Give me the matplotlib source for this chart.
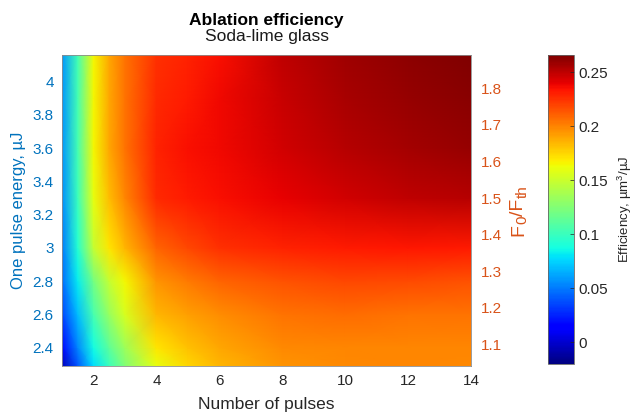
import numpy as np
import matplotlib
matplotlib.use("Agg")
import matplotlib.pyplot as plt

plt.rcParams['font.family'] = ['Liberation Sans', 'DejaVu Sans']
plt.rcParams['mathtext.fontset'] = 'custom'
plt.rcParams['mathtext.rm'] = 'Liberation Sans'
plt.rcParams['mathtext.it'] = 'Liberation Sans'

# Data
pulses = [1, 1.5, 2, 2.5, 3, 4, 5, 6, 8, 10, 12, 14]
energies = [2.29, 2.4, 2.6, 2.8, 3.0, 3.3, 3.6, 3.9, 4.16]
eff_e229 = [-0.005, 0.040, 0.078, 0.100, 0.125, 0.160, 0.175, 0.185, 0.195, 0.198, 0.200, 0.198]
eff_e240 = [0.015, 0.053, 0.087, 0.112, 0.135, 0.170, 0.182, 0.190, 0.198, 0.200, 0.200, 0.200]
eff_e260 = [0.034, 0.069, 0.105, 0.132, 0.155, 0.185, 0.192, 0.197, 0.205, 0.207, 0.205, 0.205]
eff_e280 = [0.045, 0.082, 0.120, 0.148, 0.165, 0.195, 0.203, 0.210, 0.215, 0.218, 0.217, 0.215]
eff_e300 = [0.050, 0.092, 0.148, 0.170, 0.185, 0.210, 0.218, 0.225, 0.230, 0.232, 0.233, 0.232]
eff_e330 = [0.055, 0.100, 0.160, 0.183, 0.200, 0.228, 0.232, 0.235, 0.240, 0.245, 0.250, 0.252]
eff_e360 = [0.058, 0.103, 0.165, 0.190, 0.205, 0.230, 0.235, 0.238, 0.245, 0.252, 0.257, 0.260]
eff_e390 = [0.058, 0.103, 0.165, 0.190, 0.205, 0.228, 0.232, 0.237, 0.248, 0.255, 0.260, 0.263]
eff_e416 = [0.058, 0.103, 0.165, 0.190, 0.205, 0.225, 0.230, 0.235, 0.250, 0.258, 0.262, 0.266]
fluence_ratio_per_uJ = 1 / 2.2
cbar_ticks = [0, 0.05, 0.1, 0.15, 0.2, 0.25]
cbar_ticklabels = ['0', '0.05', '0.1', '0.15', '0.2', '0.25']
x_ticks = [2, 4, 6, 8, 10, 12, 14]
y_ticks = [2.4, 2.6, 2.8, 3, 3.2, 3.4, 3.6, 3.8, 4]
y2_ticks = [1.1, 1.2, 1.3, 1.4, 1.5, 1.6, 1.7, 1.8]

Z = np.array([eff_e229, eff_e240, eff_e260, eff_e280, eff_e300,
              eff_e330, eff_e360, eff_e390, eff_e416])
X, Y = np.meshgrid(pulses, energies)

blue = (0, 0.447, 0.741)
orange = (0.85, 0.325, 0.098)
dark = (0.15, 0.15, 0.15)
W, H = 635, 416

fig = plt.figure(figsize=(6.35, 4.16), dpi=100)
ax = fig.add_axes([62/W, 1-366/H, (471-62)/W, (366-55)/H])
mesh = ax.pcolormesh(X, Y, Z, shading='gouraud', cmap='jet', vmin=-0.02, vmax=0.266)
ax.set_xlim(min(pulses), max(pulses))
ax.set_ylim(min(energies), max(energies))
ax.set_xticks(x_ticks)
ax.set_xticklabels([str(t) for t in x_ticks])
ax.set_yticks(y_ticks)
ax.set_yticklabels([f"{t:g}" for t in y_ticks])
ax.tick_params(axis='x', colors=dark, labelsize=11, direction='in', length=0, pad=6)
ax.tick_params(axis='y', colors=blue, labelsize=11, direction='in', length=0, pad=6)
ax.set_xlabel('Number of pulses', fontsize=12.5, color=dark, labelpad=6)
ax.set_ylabel('One pulse energy, µJ', fontsize=12, color=blue, labelpad=5)
for s in ax.spines.values():
    s.set_color((0.55, 0.55, 0.55))
    s.set_linewidth(0.6)

ax2 = ax.twinx()
lo, hi = ax.get_ylim()
ax2.set_ylim(lo * fluence_ratio_per_uJ, hi * fluence_ratio_per_uJ)
ax2.set_yticks(y2_ticks)
ax2.set_yticklabels([f"{t:g}" for t in y2_ticks])
ax2.tick_params(axis='y', colors=orange, labelsize=11, direction='in', length=0, pad=7)
for s in ax2.spines.values():
    s.set_visible(False)

# Right-axis label F0/Fth built from pieces (MATLAB-style large subscripts)
label_parts = [('F', 14, 523, 236), ('0', 11, 526.5, 224),
               ('/F', 14, 523, 215.5), ('th', 11, 526.5, 198)]
for txt, fs, px, py in label_parts:
    fig.text(px/W, 1-py/H, txt, rotation=90, rotation_mode='anchor',
             ha='left', va='baseline', fontsize=fs, color=orange)

fig.text(266.5/W, 1-25/H, 'Ablation efficiency', ha='center', va='baseline',
         fontsize=12.5, fontweight='bold', color='black')
fig.text(267/W, 1-41.5/H, 'Soda-lime glass', ha='center', va='baseline',
         fontsize=12.5, color=(0.1, 0.1, 0.1))

cax = fig.add_axes([548/W, 1-364/H, 26/W, (364-55)/H])
cb = fig.colorbar(mesh, cax=cax, ticks=cbar_ticks)
cb.ax.set_yticklabels(cbar_ticklabels)
cb.ax.tick_params(labelsize=11, colors=dark, direction='in', length=3, width=0.5)
cb.outline.set_linewidth(0.6)
cb.outline.set_edgecolor((0.4, 0.4, 0.4))
cb.set_label('Efficiency, µm$^3$/µJ', fontsize=9.5, color=dark, labelpad=5)

fig.savefig('out.png', dpi=100)
